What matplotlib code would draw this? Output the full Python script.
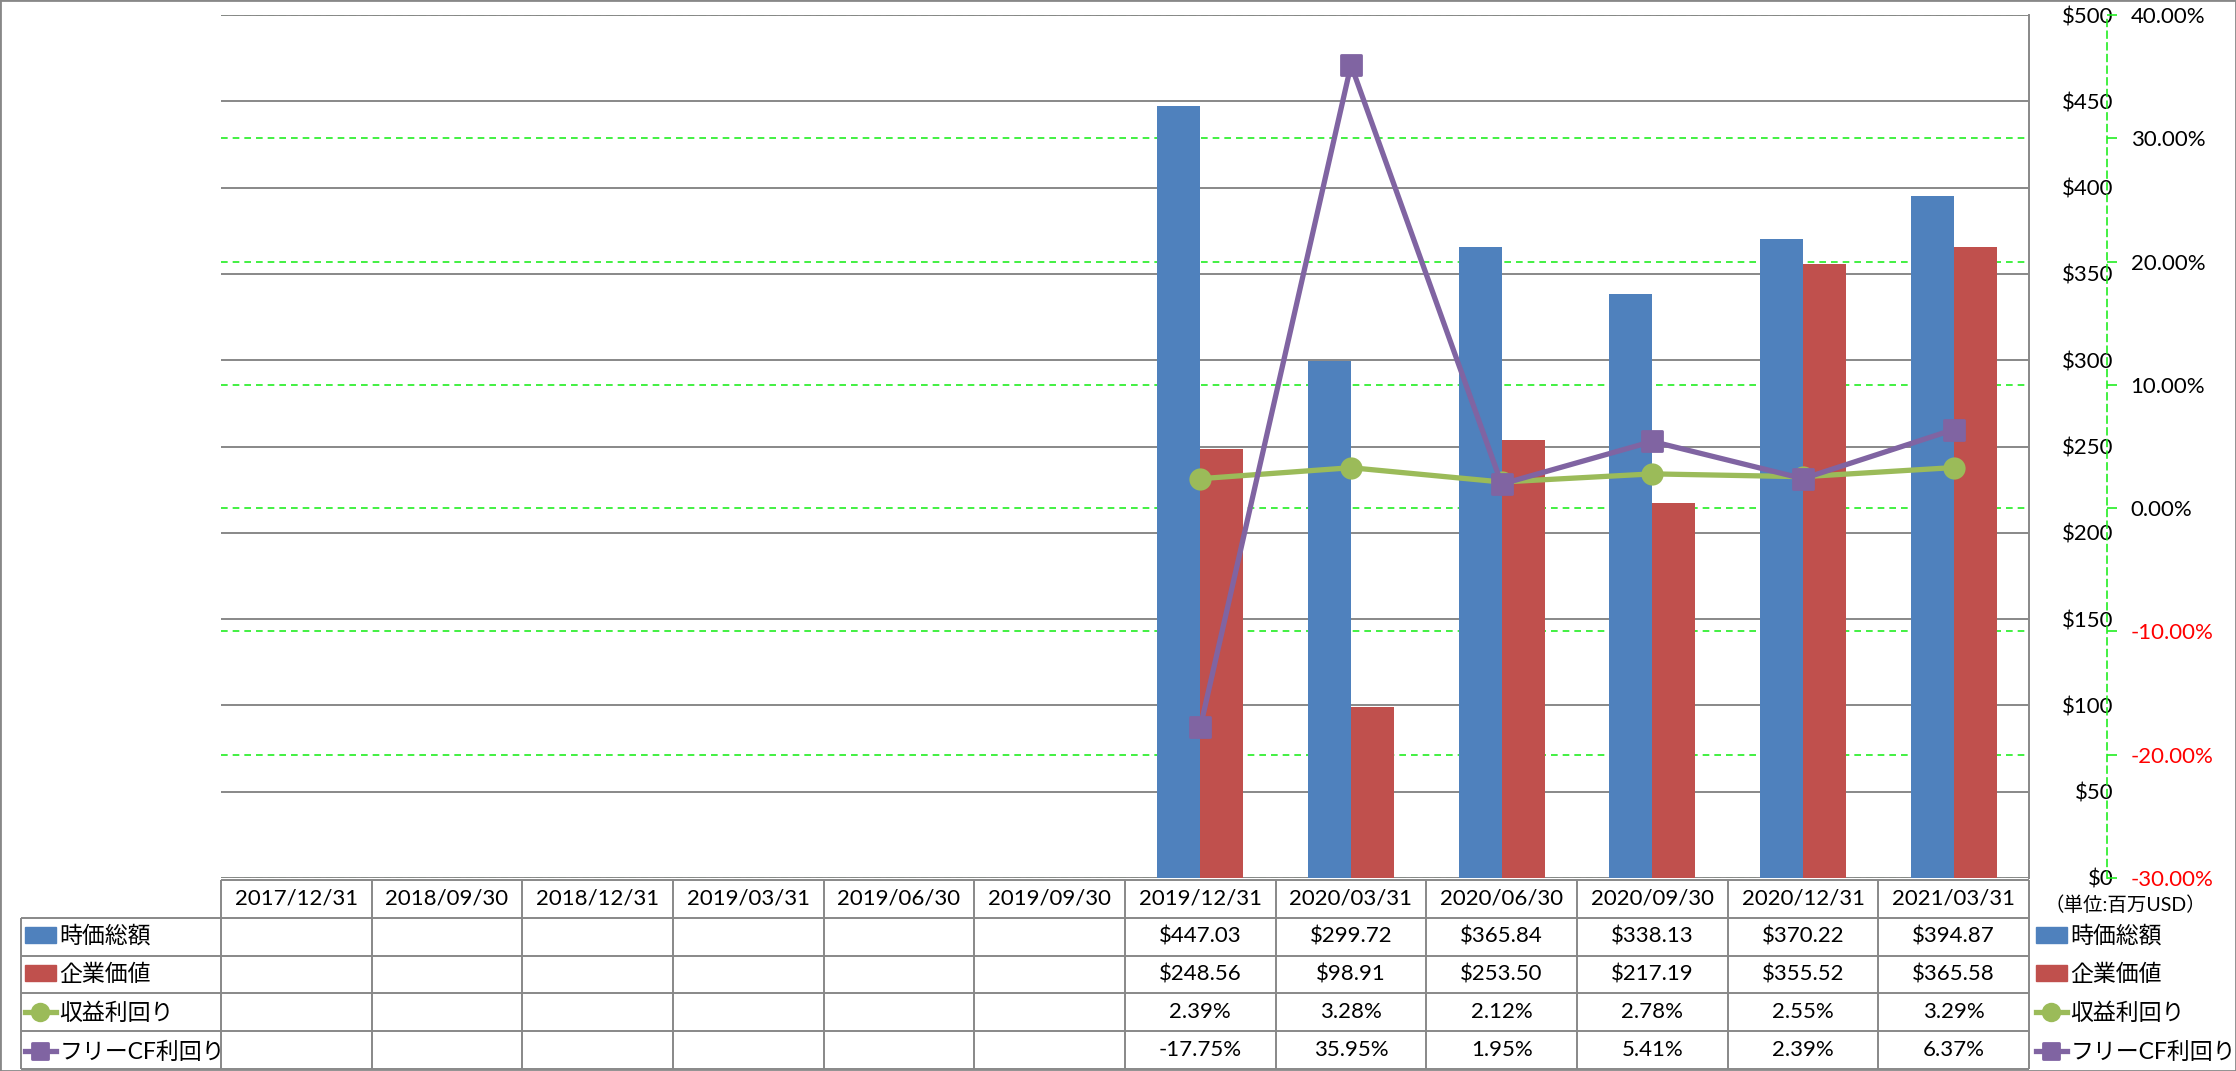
import numpy as np
import matplotlib
matplotlib.use('Agg')
import matplotlib.pyplot as plt
from matplotlib.patches import Patch, Rectangle
from matplotlib.lines import Line2D
from matplotlib.markers import MarkerStyle

plt.rcParams['font.family'] = ['Lato', 'Noto Sans CJK JP']
plt.rcParams['text.parse_math'] = False

# data
dates = ['2017/12/31', '2018/09/30', '2018/12/31', '2019/03/31', '2019/06/30', '2019/09/30',
         '2019/12/31', '2020/03/31', '2020/06/30', '2020/09/30', '2020/12/31', '2021/03/31']
market_cap = [None, None, None, None, None, None, 447.03, 299.72, 365.84, 338.13, 370.22, 394.87]
ent_value = [None, None, None, None, None, None, 248.56, 98.91, 253.50, 217.19, 355.52, 365.58]
earn_yield = [None, None, None, None, None, None, 2.39, 3.28, 2.12, 2.78, 2.55, 3.29]
fcf_yield = [None, None, None, None, None, None, -17.75, 35.95, 1.95, 5.41, 2.39, 6.37]

names = ['時価総額', '企業価値', '収益利回り', 'フリーCF利回り']
usd_ticks = list(range(0, 501, 50))
pct_ticks = list(range(-30, 41, 10))

c_blue = '#4F81BD'
c_red = '#C0504D'
c_green = '#9BBB59'
c_purple = '#8064A2'
c_grid = '#888888'
c_lime = '#22EE22'

def arr(v):
    return np.array([np.nan if a is None else a for a in v], dtype=float)

W, H = 2236, 1071
fig = plt.figure(figsize=(W / 100, H / 100), dpi=100)

# pixel layout
px_l, px_r, px_t, px_b = 221, 2029, 15, 878
rect = [px_l / W, 1 - px_b / H, (px_r - px_l) / W, (px_b - px_t) / H]

x = np.arange(len(dates))
bw = 0.285

# green % grid underneath everything
axg = fig.add_axes(rect, zorder=0)
axg.set_xlim(-0.5, 11.5)
axg.set_ylim(-30, 40)
axg.set_yticks(pct_ticks)
axg.grid(axis='y', color=c_lime, linestyle=(0, (4, 3)), linewidth=1.2)
axg.tick_params(left=False, bottom=False, labelleft=False, labelbottom=False)
for s in axg.spines.values():
    s.set_visible(False)

# bars on $ axis
ax = fig.add_axes(rect, zorder=1)
ax.patch.set_visible(False)
ax.bar(x - bw / 2, arr(market_cap), bw, color=c_blue, zorder=3)
ax.bar(x + bw / 2, arr(ent_value), bw, color=c_red, zorder=3)
ax.set_xlim(-0.5, 11.5)
ax.set_ylim(0, 500)
ax.set_xticks([])
ax.yaxis.tick_right()
for k in ['left', 'top', 'bottom']:
    ax.spines[k].set_visible(False)
ax.spines['right'].set_color(c_grid)
ax.spines['right'].set_linewidth(1.4)
ax.set_yticks(usd_ticks, labels=[f'${v}' for v in usd_ticks])
ax.tick_params(axis='y', length=0, pad=61, labelsize=16)
for t in ax.yaxis.get_major_ticks():
    t.label2.set_horizontalalignment('right')
ax.grid(axis='y', color=c_grid, linewidth=1.4, zorder=1)
ax.set_axisbelow(True)

# lines on % axis
ax2 = fig.add_axes(rect, zorder=2)
ax2.patch.set_visible(False)
ax2.set_xlim(-0.5, 11.5)
ax2.set_ylim(-30, 40)
ax2.plot(x, arr(earn_yield), color=c_green, lw=3.8, marker='o', ms=16, mew=0)
ax2.plot(x, arr(fcf_yield), color=c_purple, lw=3.8,
         marker=MarkerStyle('s', joinstyle='round'), ms=14, mew=2, mec=c_purple)
ax2.set_xticks([])
ax2.yaxis.tick_right()
for k in ['left', 'top', 'bottom']:
    ax2.spines[k].set_visible(False)
ax2.spines['right'].set_position(('axes', (2107 - px_l) / (px_r - px_l)))
ax2.spines['right'].set_color(c_lime)
ax2.spines['right'].set_linestyle((0, (4, 3)))
ax2.spines['right'].set_linewidth(1.2)
ax2.set_yticks(pct_ticks, labels=[f'{v:.2f}%' for v in pct_ticks])
ax2.tick_params(axis='y', length=7, width=1.2, color=c_lime, pad=10, labelsize=16)
for v, t in zip(pct_ticks, ax2.yaxis.get_major_ticks()):
    t.label2.set_color('#FF0000' if v < 0 else 'black')

# data table below
lab_w = (px_l - 21) / ((px_r - px_l) / 12)
tb_top, tb_bot = 880, 1069
tax = fig.add_axes([21 / W, 1 - tb_bot / H, (px_r - 21) / W, (tb_bot - tb_top) / H])
tax.set_xlim(-0.5 - lab_w, 11.5)
tax.set_ylim(5, 0)
tax.axis('off')
tax.hlines([1, 2, 3, 4, 5], -0.5 - lab_w, 11.5, color=c_grid, lw=1.4, clip_on=False)
tax.hlines([0], -0.5, 11.5, color=c_grid, lw=1.4, clip_on=False)
tax.vlines([-0.5 - lab_w], 1, 5, color=c_grid, lw=1.4, clip_on=False)
tax.vlines(np.arange(-0.5, 12, 1), 0, 5, color=c_grid, lw=1.4, clip_on=False)

rows = [
    [None if v is None else f'${v:.2f}' for v in market_cap],
    [None if v is None else f'${v:.2f}' for v in ent_value],
    [None if v is None else f'{v:.2f}%' for v in earn_yield],
    [None if v is None else f'{v:.2f}%' for v in fcf_yield],
]
for i, d in enumerate(dates):
    tax.text(i, 0.5, d, ha='center', va='center', fontsize=16)
    for r, row in enumerate(rows):
        if row[i] is not None:
            tax.text(i, r + 1.5, row[i], ha='center', va='center', fontsize=16)

handles = [
    Patch(color=c_blue),
    Patch(color=c_red),
    Line2D([], [], color=c_green, lw=3.8, marker='o', ms=14, mew=0),
    Line2D([], [], color=c_purple, lw=3.8, marker=MarkerStyle('s', joinstyle='round'),
           ms=12, mew=2, mec=c_purple),
]
for x0 in [25, 2036]:
    fig.legend(handles, names, loc='upper left', bbox_to_anchor=(x0 / W, 1 - 925 / H),
               frameon=False, fontsize=16.5, borderpad=0, borderaxespad=0,
               handlelength=1.35, handletextpad=0.15, labelspacing=0.76)

fig.text(2125 / W, 1 - 905 / H, '（単位:百万USD）', ha='center', va='center', fontsize=14)

fig.add_artist(Rectangle((0, 0), 1, 1, transform=fig.transFigure, fill=False,
                         ec=c_grid, lw=2))

fig.savefig('out.png', dpi=100)
